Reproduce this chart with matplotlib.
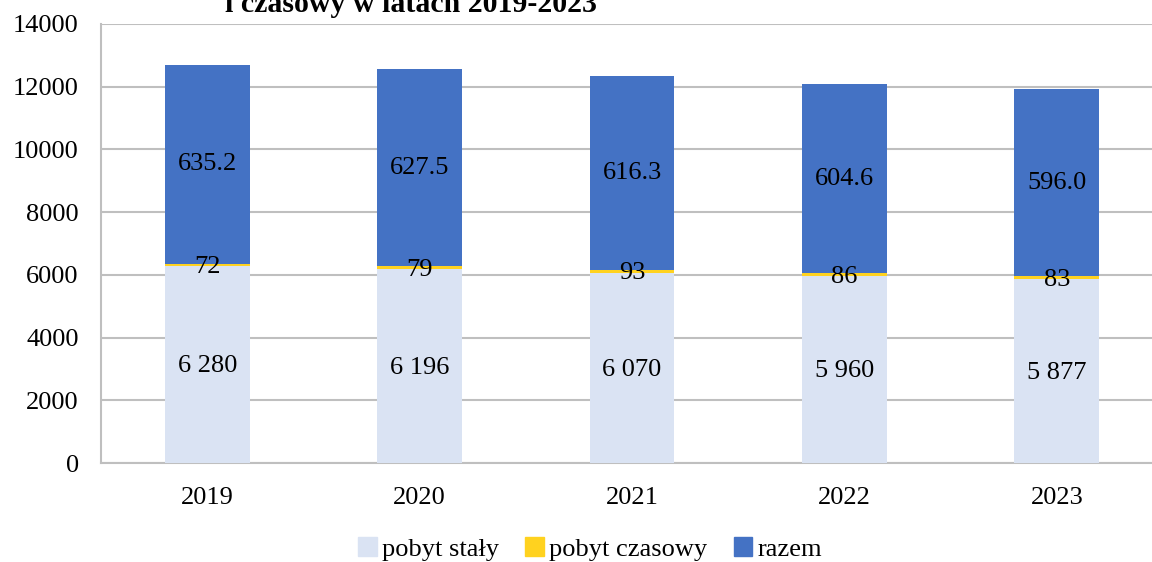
import numpy as np
import matplotlib.pyplot as plt
from matplotlib.patches import Patch

'''
DANE
'''
lata = ['2019', '2020', '2021', '2022', '2023']
pobyt_staly = [6280, 6196, 6070, 5960, 5877]
pobyt_czasowy = [72, 79, 93, 86, 83]
razem = [6352, 6275, 6163, 6046, 5960]

KOLOR_STALY = '#DAE3F3'
KOLOR_CZASOWY = '#FFD21F'
KOLOR_RAZEM = '#4472C4'
SZARY = '#BFBFBF'

plt.rcParams['font.family'] = ['Liberation Serif', 'DejaVu Serif']

'''
WYKRES
'''
fig = plt.figure(figsize=(11.52, 5.62), dpi=100)
# os wychodzi troche poza prawa krawedz, jak w oryginale
ax = fig.add_axes([101/1152, 1 - 463/562, 1062/1152, (463 - 24)/562])

x = np.arange(len(lata))
szer = 0.4
staly = np.array(pobyt_staly)
czas = np.array(pobyt_czasowy)
raz = np.array(razem)

ax.bar(x, staly, szer, color=KOLOR_STALY, zorder=3)
ax.bar(x, czas, szer, bottom=staly, color=KOLOR_CZASOWY, zorder=3)
ax.bar(x, raz, szer, bottom=staly + czas, color=KOLOR_RAZEM, zorder=3)

for i in range(len(lata)):
    ax.text(x[i], staly[i] / 2 - 60, f'{staly[i]:,}'.replace(',', ' '),
            ha='center', va='center', fontsize=19, zorder=4)
    ax.text(x[i], staly[i] + czas[i] / 2 - 70, str(czas[i]),
            ha='center', va='center', fontsize=19, zorder=4)
    ax.text(x[i], staly[i] + czas[i] + raz[i] / 2, f'{raz[i] / 10:.1f}',
            ha='center', va='center', fontsize=19, zorder=4)

ax.set_xlim(-0.5, len(lata) - 0.5)
ax.set_ylim(0, 14000)
ax.set_yticks(np.arange(0, 14001, 2000))
ax.set_xticks(x)
ax.set_xticklabels(lata)
ax.tick_params(axis='both', length=0, labelsize=19)
ax.tick_params(axis='y', pad=16)
ax.tick_params(axis='x', pad=17)
ax.grid(axis='y', color=SZARY, linewidth=1.5, zorder=0)
ax.set_axisbelow(True)
for s in ['top', 'right']:
    ax.spines[s].set_visible(False)
for s in ['left', 'bottom']:
    ax.spines[s].set_color(SZARY)
    ax.spines[s].set_linewidth(1.5)

uchwyty = [Patch(color=KOLOR_STALY, label='pobyt stały'),
           Patch(color=KOLOR_CZASOWY, label='pobyt czasowy'),
           Patch(color=KOLOR_RAZEM, label='razem')]
fig.legend(handles=uchwyty, loc='center', bbox_to_anchor=(590/1152, 1 - 549/562),
           ncol=3, frameon=False, fontsize=19, handlelength=0.7, handleheight=0.7,
           handletextpad=0.2, columnspacing=1.0)

fig.text(411/1152, 1 - 12.5/562, 'i czasowy w latach 2019-2023',
         ha='center', va='baseline', fontsize=21.5, fontweight='bold')

plt.savefig('out.png', dpi=100)
